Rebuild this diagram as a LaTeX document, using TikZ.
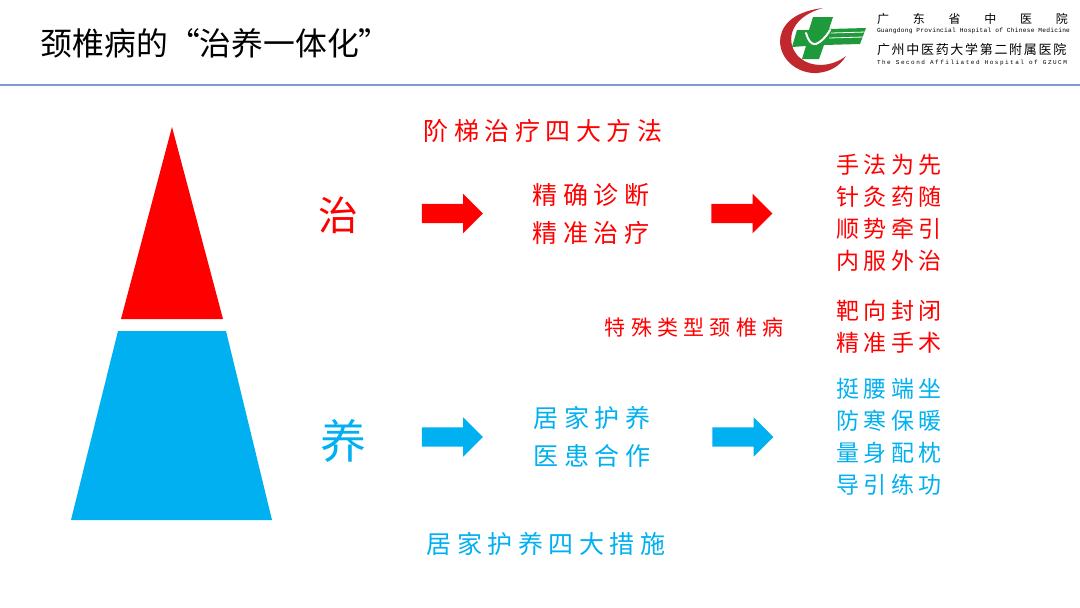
\documentclass[tikz,border=0pt]{standalone}
\usepackage{fontspec}
\setmainfont{Liberation Sans}
\newfontfamily\cjk{Noto Sans CJK SC}
\usetikzlibrary{shapes.arrows}
\definecolor{zhi}{HTML}{FF0000}
\definecolor{yang}{HTML}{00B0F0}
\definecolor{rule}{HTML}{7F9BCB}
\definecolor{logog}{HTML}{1F9A3A}
\definecolor{logor}{HTML}{C0282D}

\begin{document}
\begin{tikzpicture}[
	x=1pt,y=-1pt,
	inner sep=0pt,
	outer sep=0pt,
	txt/.style={
		font=\cjk\fontsize{#1}{#1}\selectfont
	},
	lbl/.style={
		align=center,
		font=\cjk\fontsize{25}{38}\selectfont\addfontfeature{LetterSpace=22}
	},
	col/.style={
		align=center,
		font=\cjk\fontsize{23}{32}\selectfont\addfontfeature{LetterSpace=18}
	},
	arr/.style={
		single arrow,
		fill=#1,
		text height=19pt,
		text depth=0pt,
		minimum height=61pt,
		single arrow head extend=10pt,
		single arrow head indent=0pt
	}
	]

	\useasboundingbox (0,0) rectangle (1080,608);

	% header
	\node [anchor=west,txt=31.8] (Title) at (41,43) {颈椎病的“治养一体化”};
	\fill [rule] (0,84) rectangle (1080,86);

	% logo
	\fill [logor] (823,8) .. controls (790,12) and (780,28) .. (780,42)
		.. controls (781,62) and (800,74) .. (817,73)
		.. controls (830,72) and (840,66) .. (846,56)
		.. controls (832,67) and (812,68) .. (800,58)
		.. controls (785,45) and (787,18) .. (823,8);
	\fill [logog] (813,17) -- (833,17) -- (829,29) -- (866,28) -- (860,44) -- (824,45) -- (819,59) -- (802,59) -- (806,46) -- (792,47) -- (797,30) -- (809,30) -- cycle;
	\draw [white,line width=2pt,line cap=round] (806,33) .. controls (808,40) and (811,45) .. (816,44) .. controls (821,42) and (826,37) .. (830,30);
	\draw [white,line width=.8pt] (831,33) -- (866,32) (829,38) -- (864,37);
	\node [txt=12,anchor=west] (HospA) at (877,19) {\addfontfeature{LetterSpace=198}广东省中医院};
	\node [txt=6.2,anchor=west] (HospAEn) at (877,31) {\fontspec{Liberation Mono}\fontsize{6.2}{7}\selectfont\addfontfeature{LetterSpace=4}Guangdong Provincial Hospital of Chinese Medicine};
	\node [txt=13,anchor=west] (HospB) at (877,50) {\addfontfeature{LetterSpace=13}广州中医药大学第二附属医院};
	\node [txt=6,anchor=west] (HospBEn) at (877,63) {\fontspec{Liberation Mono}\fontsize{6}{7}\selectfont\addfontfeature{LetterSpace=25}The Second Affiliated Hospital of GZUCM};

	% pyramid
	\fill [zhi] (172,127) -- (223,319) -- (121,319) -- cycle;
	\fill [yang] (118,331) -- (226,331) -- (272,520) -- (71,520) -- cycle;

	% zhi row
	\node [txt=40,text=zhi] (Zhi) at (338,215) {治};
	\node [arr=zhi] (ZhiA) at (447.5,213.5) {};
	\node [arr=zhi] (ZhiB) at (737,213.5) {};
	\node [lbl,text=zhi] (Method) at (543,131) {阶梯治疗四大方法};
	\node [lbl,text=zhi] (Diag) at (591,214) {精确诊断\\精准治疗};
	\node [col,text=zhi] (Ways) at (889,213) {手法为先\\针灸药随\\顺势牵引\\内服外治};
	\node [txt=21,text=zhi] (Special) at (694,328) {\addfontfeature{LetterSpace=25}特殊类型颈椎病};
	\node [col,text=zhi] (Target) at (889,327) {靶向封闭\\精准手术};

	% yang row
	\node [txt=46,text=yang] (Yang) at (343,441) {养};
	\node [arr=yang] (YangA) at (447.5,437) {};
	\node [arr=yang] (YangB) at (738,437) {};
	\node [lbl,text=yang] (Home) at (592,437) {居家护养\\医患合作};
	\node [col,text=yang] (Care) at (889,437) {挺腰端坐\\防寒保暖\\量身配枕\\导引练功};
	\node [lbl,text=yang] (Measure) at (546,544) {居家护养四大措施};

\end{tikzpicture}
\end{document}
